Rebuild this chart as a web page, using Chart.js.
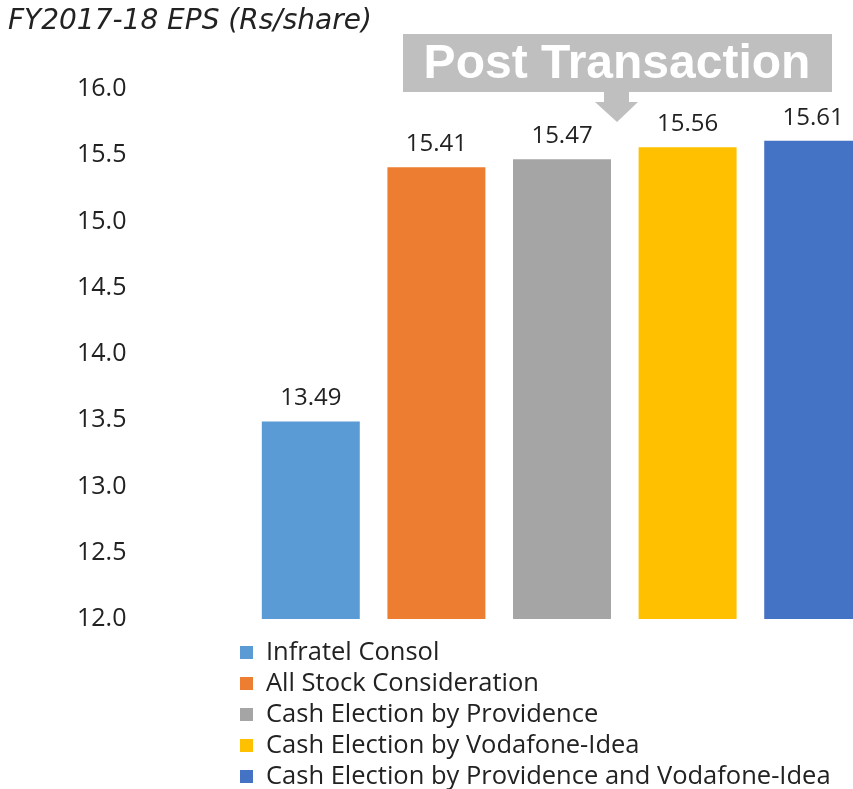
<!DOCTYPE html>
<html>
<head>
<meta charset="utf-8">
<script src="https://cdn.jsdelivr.net/npm/chart.js@4.4.0/dist/chart.umd.min.js"></script>
<style>
  body { margin: 0; overflow: hidden; background: #fff; width: 853px; height: 789px; position: relative; }
  #chart { position: absolute; left: 0; top: 0; }
  #legend { position: absolute; left: 240px; top: 635px; font-family: "Open Sans", sans-serif; font-size: 25.5px; color: #222; }
  .item { height: 31px; line-height: 31px; white-space: nowrap; }
  .sw { display: inline-block; width: 13px; height: 13px; margin-right: 13px; vertical-align: 1px; }
</style>
</head>
<body>
<canvas id="chart" width="880" height="640" style="width:880px;height:640px"></canvas>
<div id="legend"></div>
<script>
var chart_title = "FY2017-18 EPS (Rs/share)";
var callout_text = "Post Transaction";
var categories = ["Infratel Consol", "All Stock Consideration", "Cash Election by Providence",
    "Cash Election by Vodafone-Idea", "Cash Election by Providence and Vodafone-Idea"];
var eps_values = [13.49, 15.41, 15.47, 15.56, 15.61];
var bar_colors = ["#5B9BD5", "#ED7D31", "#A5A5A5", "#FFC000", "#4472C4"];
var y_ticks = [12.0, 12.5, 13.0, 13.5, 14.0, 14.5, 15.0, 15.5, 16.0];

// legend below the chart
var legend_html = "";
for (var i = 0; i < categories.length; i++) {
    legend_html += "<div class='item'><span class='sw' style='background:" + bar_colors[i] + "'></span>" + categories[i] + "</div>";
}
document.getElementById("legend").innerHTML = legend_html;

// value labels above bars
var value_labels = {
    id: "value_labels",
    afterDatasetsDraw: function (chart) {
        var ctx = chart.ctx;
        var meta = chart.getDatasetMeta(0);
        ctx.save();
        ctx.font = "24px 'Open Sans', sans-serif";
        ctx.fillStyle = "#222";
        ctx.textAlign = "center";
        ctx.textBaseline = "middle";
        meta.data.forEach(function (bar, i) {
            ctx.fillText(eps_values[i].toFixed(2), bar.x, bar.y - 23);
        });
        ctx.restore();
    }
};

// title top-left and grey "Post Transaction" callout with arrow
var callout = {
    id: "callout",
    afterDraw: function (chart) {
        var ctx = chart.ctx;
        ctx.save();
        ctx.fillStyle = "#222";
        ctx.font = "italic 28px 'DejaVu Sans', sans-serif";
        ctx.textAlign = "left";
        ctx.textBaseline = "middle";
        ctx.fillText(chart_title, 8, 22);

        ctx.fillStyle = "#BFBFBF";
        ctx.fillRect(403, 34, 429, 58);
        ctx.beginPath();
        ctx.moveTo(604, 92);
        ctx.lineTo(629, 92);
        ctx.lineTo(629, 102);
        ctx.lineTo(638, 102);
        ctx.lineTo(617, 122);
        ctx.lineTo(595, 102);
        ctx.lineTo(604, 102);
        ctx.closePath();
        ctx.fill();
        ctx.fillStyle = "#fff";
        ctx.font = "bold 48px 'Liberation Sans', Arial, sans-serif";
        ctx.textAlign = "center";
        ctx.fillText(callout_text, 617, 65);
        ctx.restore();
    }
};

new Chart(document.getElementById("chart"), {
    type: "bar",
    data: {
        labels: categories,
        datasets: [{
            data: eps_values,
            backgroundColor: bar_colors,
            categoryPercentage: 1.0,
            barPercentage: 0.78
        }]
    },
    options: {
        responsive: false,
        animation: false,
        layout: { padding: { left: 77, right: 4, top: 89, bottom: 21 } },
        plugins: {
            legend: { display: false },
            tooltip: { enabled: false }
        },
        scales: {
            x: { display: false },
            y: {
                min: 12,
                max: 16,
                afterBuildTicks: function (scale) {
                    scale.ticks = y_ticks.map(function (v) { return { value: v }; });
                },
                afterFit: function (scale) { scale.width = 171; },
                grid: { display: false, drawTicks: false },
                border: { display: false },
                ticks: {
                    padding: 0,
                    crossAlign: "far",
                    color: "#222",
                    font: { family: "'Open Sans', sans-serif", size: 25 },
                    callback: function (v) { return Number(v).toFixed(1); }
                }
            }
        }
    },
    plugins: [value_labels, callout]
});
</script>
</body>
</html>
